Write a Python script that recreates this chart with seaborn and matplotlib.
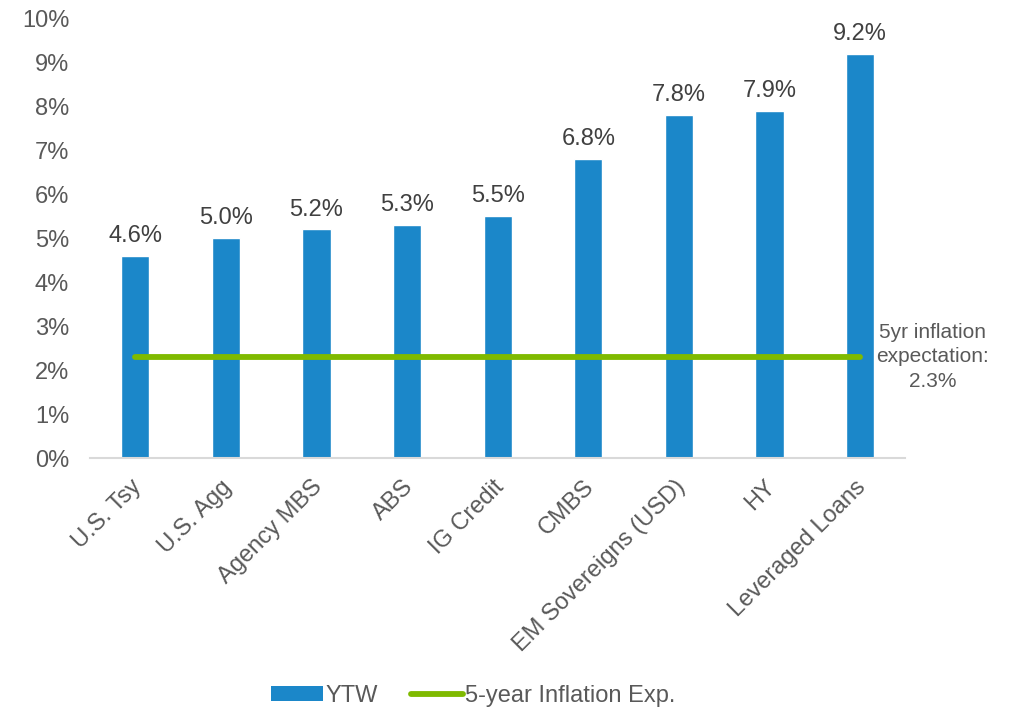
import matplotlib
matplotlib.use("Agg")
import matplotlib.pyplot as plt
import matplotlib.transforms as mtransforms
from matplotlib.patches import Patch
from matplotlib.lines import Line2D
import seaborn as sns
import pandas as pd

categories = ["U.S. Tsy", "U.S. Agg", "Agency MBS", "ABS", "IG Credit",
              "CMBS", "EM Sovereigns (USD)", "HY", "Leveraged Loans"]
ytw = [4.6, 5.0, 5.2, 5.3, 5.5, 6.8, 7.8, 7.9, 9.2]
inflation_exp = 2.3
y_ticks = [0, 1, 2, 3, 4, 5, 6, 7, 8, 9, 10]

BAR_COLOR = "#1b87c9"
LINE_COLOR = "#7fba00"
TICK_COLOR = "#595959"
VALUE_COLOR = "#404040"
FS = 17

sns.set_theme(style="white")
plt.rcParams["font.family"] = ["Liberation Sans", "DejaVu Sans"]

df = pd.DataFrame({"category": categories, "ytw": ytw})

fig = plt.figure(figsize=(10.23, 7.07), dpi=100)
ax = fig.add_axes([0.088, 0.352, 0.797, 0.622])

sns.barplot(data=df, x="category", y="ytw", color=BAR_COLOR, width=0.31,
            saturation=1, ax=ax)

x_pos = list(range(len(categories)))
sns.lineplot(x=[x_pos[0], x_pos[-1]], y=[inflation_exp, inflation_exp],
             color=LINE_COLOR, linewidth=4.2, solid_capstyle="round",
             ax=ax, legend=False)

for i, v in enumerate(ytw):
    ax.text(i, v + 0.2, f"{v:.1f}%", ha="center", va="bottom",
            fontsize=FS, color=VALUE_COLOR)

ax.text(len(categories) - 0.5 + 0.3, inflation_exp,
        "5yr inflation\nexpectation:\n" + f"{inflation_exp:.1f}%",
        ha="center", va="center", fontsize=15, color=TICK_COLOR,
        linespacing=1.35, clip_on=False)

ax.set_xlim(-0.5, len(categories) - 0.5)
ax.set_ylim(0, 10)
ax.set_yticks(y_ticks)
ax.set_yticklabels([f"{t}%" for t in y_ticks], fontsize=FS, color=TICK_COLOR)
ax.set_xlabel("")
ax.set_ylabel("")
ax.tick_params(axis="both", length=0)
ax.tick_params(axis="y", pad=15)

ax.set_xticks(x_pos)
ax.set_xticklabels(categories, rotation=45, ha="right", va="top",
                   rotation_mode="anchor", fontsize=FS, color=TICK_COLOR)
offset = mtransforms.ScaledTranslation(-0.05, -0.13, fig.dpi_scale_trans)
for lbl in ax.get_xticklabels():
    lbl.set_transform(lbl.get_transform() + offset)

for side in ["top", "right", "left"]:
    ax.spines[side].set_visible(False)
ax.spines["bottom"].set_color("#d9d9d9")
ax.spines["bottom"].set_linewidth(1.5)

handles = [Patch(facecolor=BAR_COLOR, edgecolor="none"),
           Line2D([0], [0], color=LINE_COLOR, linewidth=4.2,
                  solid_capstyle="round")]
labels = ["YTW", "5-year Inflation Exp."]
fig.legend(handles, labels, loc="lower center", bbox_to_anchor=(0.463, -0.03),
           ncol=2, frameon=False, fontsize=FS, handlelength=2.2,
           handleheight=0.6, handletextpad=0.1, columnspacing=1.4,
           labelcolor=TICK_COLOR)

fig.savefig("out.png", dpi=100, facecolor="white")
